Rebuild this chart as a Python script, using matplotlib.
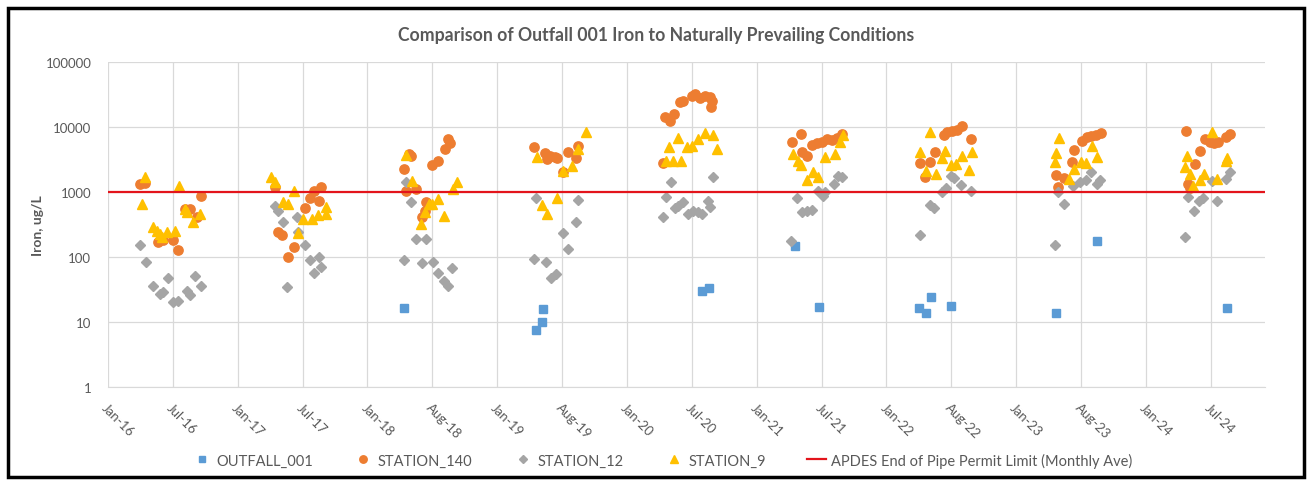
import pandas as pd
import matplotlib
matplotlib.use('Agg')
import matplotlib.pyplot as plt
import matplotlib.dates as mdates
from matplotlib.patches import Rectangle
from matplotlib.ticker import FixedLocator, FuncFormatter, NullLocator

plt.rcParams['font.family'] = ['Lato', 'DejaVu Sans']

# ---- data ----
outfall_dates = ['2018-05-12', '2019-05-20', '2019-06-06', '2019-06-09', '2020-08-29', '2020-09-18',
                 '2021-05-17', '2021-07-24', '2022-05-03', '2022-05-23', '2022-06-06', '2022-08-01',
                 '2023-05-23', '2023-09-15', '2024-09-15']
outfall_vals = [16.4, 7.5, 10, 16, 30, 33, 147, 17, 16.4, 14, 24, 17.5, 14, 177, 16.4]

st140_dates = ['2016-04-30', '2016-05-14', '2016-06-20', '2016-07-04', '2016-08-01', '2016-08-15',
               '2016-09-04', '2016-09-18', '2016-10-07', '2016-10-18',
               '2017-05-14', '2017-05-23', '2017-06-03', '2017-06-20', '2017-07-07', '2017-08-07',
               '2017-08-21', '2017-09-01', '2017-09-15', '2017-09-23',
               '2018-05-12', '2018-05-20', '2018-05-28', '2018-06-03', '2018-06-17', '2018-07-04',
               '2018-07-10', '2018-07-15', '2018-08-01', '2018-08-18', '2018-09-07', '2018-09-15',
               '2018-09-21',
               '2019-05-14', '2019-06-14', '2019-06-20', '2019-06-28', '2019-07-12', '2019-07-18',
               '2019-08-04', '2019-08-18', '2019-09-09', '2019-09-15',
               '2020-05-12', '2020-05-17', '2020-05-31', '2020-06-11', '2020-06-28', '2020-07-07',
               '2020-08-01', '2020-08-09', '2020-08-23', '2020-09-07', '2020-09-21', '2020-09-23',
               '2020-09-26',
               '2021-05-09', '2021-06-03', '2021-06-06', '2021-06-20', '2021-07-04', '2021-07-18',
               '2021-08-01', '2021-08-15', '2021-08-29', '2021-09-12', '2021-09-26',
               '2022-05-06', '2022-05-20', '2022-06-03', '2022-06-17', '2022-07-10', '2022-07-21',
               '2022-08-04', '2022-08-18', '2022-09-01', '2022-09-26',
               '2023-05-23', '2023-05-28', '2023-06-14', '2023-07-07', '2023-07-12', '2023-08-04',
               '2023-08-18', '2023-08-29', '2023-09-12', '2023-09-26',
               '2024-05-23', '2024-05-28', '2024-06-03', '2024-06-17', '2024-07-01', '2024-07-15',
               '2024-07-29', '2024-08-09', '2024-08-21', '2024-09-12', '2024-09-23']
st140_vals = [1330, 1400, 170, 180, 180, 130, 550, 550, 410, 860,
              1200, 240, 215, 100, 142, 570, 810, 1040, 720, 1200,
              2260, 1040, 3830, 3550, 1110, 410, 510, 700, 2600, 3000, 4600, 6500, 5600,
              4900, 3950, 3200, 3600, 3450, 3340, 2020, 4100, 3340, 5100,
              2800, 14300, 12200, 15800, 24300, 25300, 30000, 32000, 28000, 30000, 29000, 20300, 25300,
              5800, 7800, 4100, 3600, 5300, 5600, 5900, 6600, 6300, 6800, 7800,
              2800, 1700, 2900, 4100, 7500, 8400, 8700, 9000, 10300, 6600,
              1830, 1200, 1630, 2900, 4500, 6100, 7000, 7300, 7500, 8100,
              8700, 1330, 1150, 2700, 4300, 6600, 5900, 5600, 5900, 7000, 7800]

st12_dates = ['2016-04-30', '2016-05-17', '2016-06-06', '2016-06-25', '2016-07-04', '2016-07-18',
              '2016-08-01', '2016-08-15', '2016-09-09', '2016-09-18', '2016-10-02', '2016-10-18',
              '2017-05-14', '2017-05-23', '2017-06-06', '2017-06-17', '2017-07-15', '2017-07-18',
              '2017-08-07', '2017-08-21', '2017-09-01', '2017-09-15', '2017-09-23',
              '2018-05-12', '2018-05-20', '2018-06-03', '2018-06-17', '2018-07-04', '2018-07-15',
              '2018-08-04', '2018-08-18', '2018-09-04', '2018-09-15', '2018-09-24',
              '2019-05-14', '2019-05-20', '2019-06-17', '2019-07-01', '2019-07-15', '2019-08-04',
              '2019-08-18', '2019-09-09', '2019-09-15',
              '2020-05-12', '2020-05-20', '2020-06-03', '2020-06-14', '2020-06-23', '2020-07-07',
              '2020-07-21', '2020-08-04', '2020-08-18', '2020-08-29', '2020-09-15', '2020-09-21',
              '2020-09-29',
              '2021-05-06', '2021-05-23', '2021-06-06', '2021-06-20', '2021-07-04', '2021-07-21',
              '2021-08-04', '2021-08-09', '2021-09-04', '2021-09-15', '2021-09-26',
              '2022-05-06', '2022-06-03', '2022-06-14', '2022-07-07', '2022-07-18', '2022-08-01',
              '2022-08-09', '2022-08-29', '2022-09-26',
              '2023-05-20', '2023-05-28', '2023-06-14', '2023-07-10', '2023-07-29', '2023-08-15',
              '2023-08-29', '2023-09-15', '2023-09-23',
              '2024-05-20', '2024-05-28', '2024-06-14', '2024-06-28', '2024-07-10', '2024-08-04',
              '2024-08-18', '2024-09-12', '2024-09-23']
st12_vals = [152, 84, 36, 27, 29, 47, 20, 21, 30, 26, 51, 36,
             610, 510, 345, 34, 410, 240, 152, 90, 57, 100, 70,
             90, 1430, 700, 190, 81, 190, 84, 57, 43, 36, 68,
             93, 810, 84, 47, 55, 235, 133, 345, 750,
             410, 830, 1430, 570, 610, 700, 460, 510, 490, 460, 730, 590, 1700,
             177, 810, 490, 510, 530, 1040, 870, 1000, 1330, 1770, 1700,
             218, 630, 570, 1000, 1150, 1750, 1650, 1280, 1040,
             152, 1000, 650, 1230, 1430, 1530, 2030, 1330, 1530,
             200, 830, 510, 730, 810, 1470, 730, 1580, 2030]

st9_dates = ['2016-05-06', '2016-05-14', '2016-06-06', '2016-06-17', '2016-06-25', '2016-07-01',
             '2016-07-15', '2016-08-07', '2016-08-18', '2016-09-04', '2016-09-09', '2016-09-26',
             '2016-10-16',
             '2017-05-03', '2017-05-14', '2017-06-06', '2017-06-20', '2017-07-07', '2017-07-18',
             '2017-08-01', '2017-08-26', '2017-09-12', '2017-10-05', '2017-10-07',
             '2018-05-20', '2018-06-06', '2018-07-01', '2018-07-10', '2018-07-24', '2018-08-01',
             '2018-08-18', '2018-09-04', '2018-09-29', '2018-10-10',
             '2019-05-23', '2019-06-06', '2019-06-20', '2019-07-18', '2019-08-04', '2019-08-29',
             '2019-09-15', '2019-10-07',
             '2020-05-20', '2020-05-28', '2020-06-09', '2020-06-23', '2020-07-01', '2020-07-18',
             '2020-08-01', '2020-08-18', '2020-09-07', '2020-09-29', '2020-10-10',
             '2021-05-12', '2021-05-26', '2021-06-03', '2021-06-20', '2021-07-07', '2021-07-21',
             '2021-08-09', '2021-09-07', '2021-09-21', '2021-09-29',
             '2022-05-06', '2022-05-23', '2022-06-03', '2022-06-20', '2022-07-07', '2022-07-15',
             '2022-08-01', '2022-08-15', '2022-09-01', '2022-09-21', '2022-09-29',
             '2023-05-20', '2023-05-23', '2023-05-31', '2023-06-28', '2023-07-12', '2023-08-01',
             '2023-08-15', '2023-09-01', '2023-09-15',
             '2024-05-20', '2024-05-26', '2024-06-03', '2024-06-11', '2024-07-01', '2024-07-12',
             '2024-08-04', '2024-08-18', '2024-09-12', '2024-09-15']
st9_vals = [650, 1700, 290, 250, 225, 200, 240, 250, 1240, 550, 490, 345, 460,
            1700, 1430, 700, 650, 1040, 235, 385, 385, 440, 460, 590,
            3700, 1470, 320, 490, 650, 650, 780, 430, 1110, 1430,
            3450, 630, 460, 810, 2100, 2500, 4600, 8400,
            3000, 4900, 3000, 6800, 3000, 4900, 5100, 6500, 8000, 7500, 4600,
            3850, 3000, 2600, 1530, 2030, 1700, 3400, 3850, 5800, 7500,
            4100, 2100, 8400, 1900, 3340, 4300, 2600, 2700, 3600, 2200, 4100,
            2900, 4000, 6800, 1580, 2250, 2900, 2800, 5100, 3450,
            2400, 3600, 1900, 1230, 1530, 1900, 8400, 1580, 3000, 3300]

permit_limit = 1000
y_ticks = [1, 10, 100, 1000, 10000, 100000]

# ---- figure ----
fig = plt.figure(figsize=(13.07, 4.81), dpi=100)
W, H = 1307, 481
ax = fig.add_axes([108 / W, 1 - 388 / H, (1265 - 108) / W, (388 - 63) / H])

gray_txt = '#595959'

ax.plot(pd.to_datetime(outfall_dates), outfall_vals, ls='none', marker='s', ms=6.2,
        color='#5B9BD5', mec='#5B9BD5', label='OUTFALL_001', zorder=3)
ax.plot(pd.to_datetime(st140_dates), st140_vals, ls='none', marker='o', ms=6.7,
        color='#ED7D31', mec='#ED7D31', label='STATION_140', zorder=3)
ax.plot(pd.to_datetime(st12_dates), st12_vals, ls='none', marker='D', ms=5.2,
        color='#A5A5A5', mec='#A5A5A5', label='STATION_12', zorder=3)
ax.plot(pd.to_datetime(st9_dates), st9_vals, ls='none', marker='^', ms=7,
        color='#FFC000', mec='#FFC000', label='STATION_9', zorder=3)
ax.axhline(permit_limit, color='#E3141B', lw=1.6, zorder=4,
           label='APDES End of Pipe Permit Limit (Monthly Ave)')

ax.set_yscale('log')
ax.set_ylim(1, 100000)
ax.yaxis.set_major_locator(FixedLocator(y_ticks))
ax.yaxis.set_minor_locator(NullLocator())
ax.yaxis.set_major_formatter(FuncFormatter(lambda v, p: '%d' % v))

x_start = pd.Timestamp('2016-01-31')
x_end = pd.Timestamp('2024-12-31')
ax.set_xlim(x_start, x_end)
x0 = mdates.date2num(x_start)
ax.xaxis.set_major_locator(FixedLocator([x0 + i * 182.625 for i in range(18)]))
ax.xaxis.set_major_formatter(mdates.DateFormatter('%b-%y'))

ax.grid(True, color='#D9D9D9', lw=0.9)
ax.set_axisbelow(True)
for s in ['left', 'right', 'top']:
    ax.spines[s].set_visible(False)
ax.spines['bottom'].set_color('#D9D9D9')
ax.tick_params(axis='both', length=0, labelsize=9.5, labelcolor=gray_txt)
ax.tick_params(axis='y', pad=12)
ax.tick_params(axis='x', pad=10)
for lab in ax.get_xticklabels():
    lab.set_rotation(-45)
    lab.set_ha('left')
    lab.set_va('top')
    lab.set_rotation_mode('anchor')

ax.set_ylabel('Iron, ug/L', fontsize=10, fontweight='bold', color=gray_txt)
ax.yaxis.set_label_coords(-0.055, 0.5)

fig.text(656 / W, 1 - 35 / H, 'Comparison of Outfall 001 Iron to Naturally Prevailing Conditions',
         ha='center', va='center', fontsize=12.7, fontweight='bold', color=gray_txt)

handles, labels = ax.get_legend_handles_labels()
fig.legend(handles, labels, loc='center', bbox_to_anchor=(662 / W, 1 - 461 / H), ncol=5,
           frameon=False, fontsize=10.5, labelcolor=gray_txt, handlelength=1.3,
           handletextpad=0.35, columnspacing=2.8, markerscale=0.8)

fig.add_artist(Rectangle((8 / W, 3 / H), (1304 - 8) / W, (469 - 0) / H,
                         transform=fig.transFigure, fill=False, ec='black', lw=2.5))

fig.savefig('out.png', dpi=100)
